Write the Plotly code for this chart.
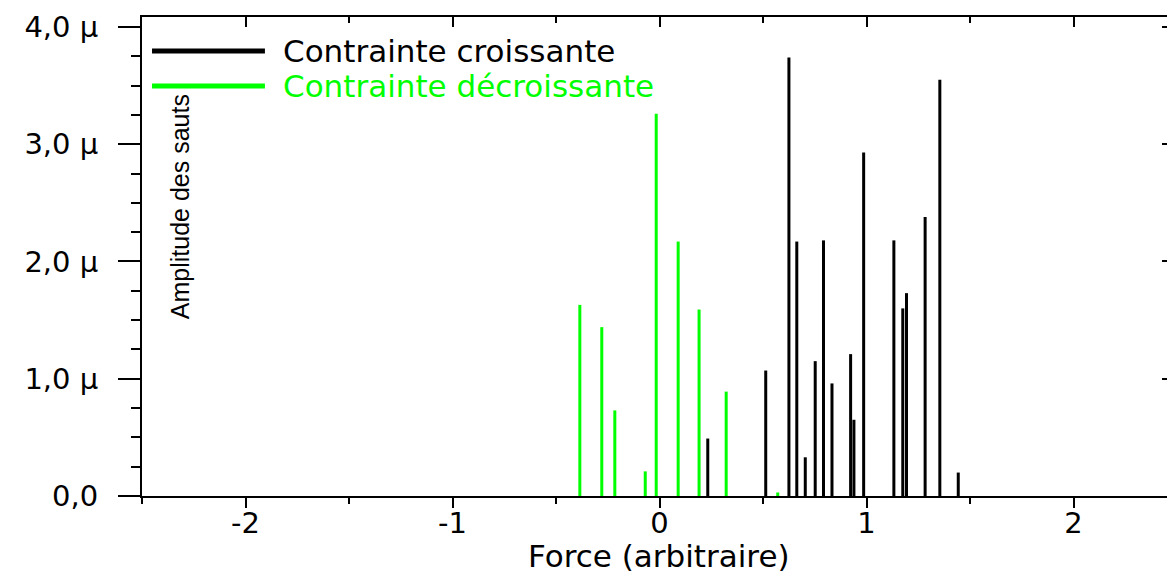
import plotly.graph_objects as go

# ---- data ----
inc_force = [0.233, 0.513, 0.625, 0.663, 0.704, 0.752, 0.792, 0.833, 0.923,
             0.939, 0.986, 1.132, 1.175, 1.193, 1.283, 1.354, 1.443]
inc_amp = [0.49, 1.07, 3.74, 2.17, 0.33, 1.15, 2.18, 0.96, 1.21,
           0.65, 2.93, 2.18, 1.60, 1.73, 2.38, 3.55, 0.20]

dec_force = [-0.385, -0.279, -0.216, -0.069, -0.016, 0.090, 0.191, 0.322, 0.571]
dec_amp = [1.63, 1.44, 0.73, 0.21, 3.26, 2.17, 1.59, 0.89, 0.03]

x_tickvals = [-2, -1, 0, 1, 2]
x_ticktext = ["-2", "-1", "0", "1", "2"]
y_tickvals = [0, 1, 2, 3, 4]
y_ticktext = ["0,0", "1,0 μ", "2,0 μ", "3,0 μ", "4,0 μ"]

series_names = ["Contrainte croissante", "Contrainte décroissante"]
x_title = "Force (arbitraire)"
y_title = "Amplitude des sauts"

BLACK = "#000000"
GREEN = "#00FF00"
FONT = "DejaVu Sans"


def stems(xs, ys):
    sx, sy = [], []
    for x, y in zip(xs, ys):
        sx += [x, x, None]
        sy += [0, y, None]
    return sx, sy


fig = go.Figure()
for xs, ys, col, name in [(inc_force, inc_amp, BLACK, series_names[0]),
                          (dec_force, dec_amp, GREEN, series_names[1])]:
    sx, sy = stems(xs, ys)
    fig.add_trace(go.Scatter(x=sx, y=sy, mode="lines", name=name,
                             line=dict(color=col, width=3), showlegend=False,
                             hoverinfo="skip"))

# invisible trace to host mirrored (top/right) axes
fig.add_trace(go.Scatter(x=[None], y=[None], xaxis="x2", yaxis="y2",
                         showlegend=False, hoverinfo="skip"))

XR = [-2.5, 2.49]
YR = [0, 4.085]

fig.update_layout(
    width=1167, height=568,
    margin=dict(l=134, r=0, t=9, b=80),
    paper_bgcolor="white", plot_bgcolor="white",
    font=dict(family=FONT, color="black", size=26),
    xaxis=dict(range=XR, tickmode="array", tickvals=x_tickvals, ticktext=x_ticktext,
               ticks="outside", ticklen=10, tickwidth=2, tickcolor="black",
               showline=True, linecolor="black", linewidth=2,
               showgrid=False, zeroline=False,
               minor=dict(tickmode="linear", tick0=0, dtick=0.5, ticks="outside",
                          ticklen=6, tickwidth=2, tickcolor="black"),
               tickfont=dict(size=29, family=FONT),
               ticklabelstandoff=-10),
    yaxis=dict(range=YR, tickmode="array", tickvals=y_tickvals, ticktext=y_ticktext,
               ticks="outside", ticklen=22, tickwidth=2, tickcolor="black",
               showline=True, linecolor="black", linewidth=2,
               showgrid=False, zeroline=False,
               minor=dict(tickmode="linear", tick0=0, dtick=0.25, ticks="outside",
                          ticklen=9, tickwidth=2, tickcolor="black"),
               tickfont=dict(size=29, family=FONT),
               ticklabelstandoff=14),
    xaxis2=dict(range=XR, overlaying="x", side="top", tickmode="array",
                tickvals=x_tickvals, showticklabels=False,
                ticks="inside", ticklen=10, tickwidth=2, tickcolor="black",
                showline=True, linecolor="black", linewidth=2,
                showgrid=False, zeroline=False,
                minor=dict(tickmode="linear", tick0=0, dtick=0.5, ticks="inside",
                           ticklen=6, tickwidth=2, tickcolor="black")),
    yaxis2=dict(range=YR, overlaying="y", side="right", tickmode="array",
                tickvals=y_tickvals, showticklabels=False,
                ticks="inside", ticklen=13, tickwidth=2, tickcolor="black",
                showline=False, showgrid=False, zeroline=False,
                minor=dict(tickmode="linear", tick0=0, dtick=0.25, ticks="inside",
                           ticklen=6, tickwidth=2, tickcolor="black")),
    showlegend=False,
)

# axis titles (x below, y drawn inside the frame as in the reference)
fig.add_annotation(text=x_title, xref="paper", yref="paper", x=0.5, y=-0.125,
                   xanchor="center", yanchor="middle", showarrow=False,
                   font=dict(size=31, family=FONT, color="black"))
fig.add_annotation(text=y_title, xref="paper", yref="paper", x=0.0368, y=0.603,
                   xanchor="center", yanchor="middle", textangle=-90, showarrow=False,
                   font=dict(size=25, family="Liberation Sans", color="black"))

# manual legend (long line samples as in the reference)
leg_y = [0.929, 0.856]
for yy, col, name in zip(leg_y, [BLACK, GREEN], series_names):
    fig.add_shape(type="line", xref="paper", yref="paper", x0=0.0097, x1=0.119,
                  y0=yy, y1=yy, line=dict(color=col, width=5))
    fig.add_annotation(text=name, xref="paper", yref="paper", x=0.1346, y=yy,
                       xanchor="left", yanchor="middle", showarrow=False,
                       font=dict(size=31, family=FONT, color=col))

fig.write_html("out.html")
